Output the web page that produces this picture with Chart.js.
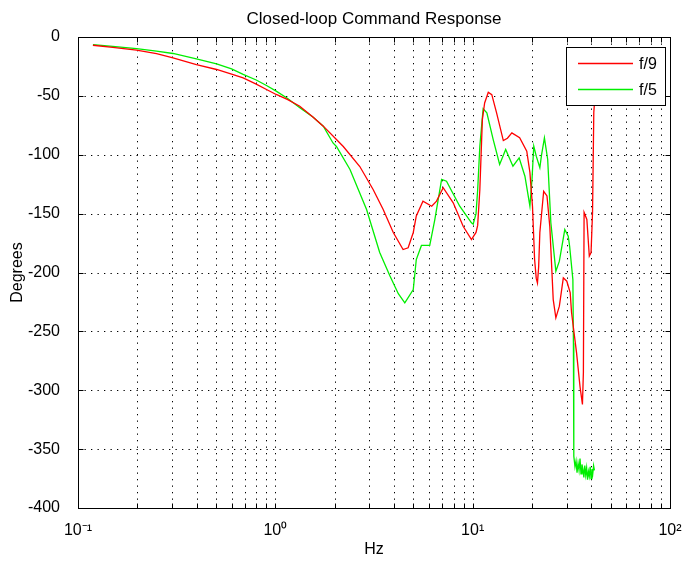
<!DOCTYPE html>
<html><head><meta charset="utf-8">
<script src="https://cdn.jsdelivr.net/npm/chart.js@4.4.1/dist/chart.umd.min.js"></script>
<style>html,body{margin:0;padding:0;background:#fff}#wrap{width:687px;height:563px}</style>
</head><body><div id="wrap"><canvas id="c" width="687" height="563"></canvas></div>
<script>
// ---- data ----
const chartTitle = 'Closed-loop Command Response';
const seriesNames = ['f/9', 'f/5'];

const redHz  = [0.119, 0.15, 0.198, 0.25, 0.303, 0.398, 0.504, 0.6, 0.687, 0.8, 0.902, 1.01, 1.15, 1.33, 1.55, 1.75, 2.04, 2.21, 2.68, 3.13, 3.52, 3.96, 4.44, 4.71, 5.0, 5.18, 5.6, 6.2, 6.56, 7.09, 7.97, 8.95, 9.86, 10.4, 10.6, 10.87, 11.2, 11.5, 12.0, 12.5, 13.2, 14.3, 15.0, 15.8, 17.3, 18.8, 19.5, 20.1, 20.6, 21.0, 21.3, 21.6, 21.9, 22.9, 23.8, 24.6, 25.6, 26.4, 27.5, 28.8, 30.0, 31.2, 31.7, 33.6, 35.0, 36.0, 36.4, 36.7, 37.9, 39.0, 39.8, 40.5, 41.1, 41.6];
const redDeg = [-7, -8.8, -11.2, -14.2, -17.7, -23.4, -27.6, -31.5, -34.7, -40, -44.6, -48.8, -53, -58.8, -68, -75.7, -87, -93, -110, -129.5, -146.5, -166, -180.5, -179, -166, -152, -139.4, -143.7, -139.4, -128, -140.8, -160.7, -172, -166, -160, -130, -70, -56, -47, -49, -64, -88, -86, -81.4, -85.6, -97, -115, -144, -189, -205, -209, -195, -166, -131, -135, -161, -223, -238.5, -228.6, -204.5, -207.4, -217, -234, -268, -297, -312, -285, -149, -155, -186, -183, -149, -64, -52];

const greenHz  = [0.119, 0.15, 0.198, 0.25, 0.303, 0.398, 0.504, 0.6, 0.687, 0.8, 0.902, 1.01, 1.15, 1.33, 1.55, 1.75, 1.96, 2.04, 2.39, 2.9, 3.38, 3.81, 4.2, 4.53, 5.0, 5.18, 5.5, 6.06, 6.43, 6.96, 7.37, 8.6, 9.86, 10.06, 10.4, 10.6, 10.87, 11.3, 11.8, 12.7, 13.7, 14.7, 16.0, 17.2, 18.4, 19.5, 20.0, 20.4, 21.0, 21.9, 22.3, 23.1, 24.0, 24.9, 26.4, 27.5, 29.3, 30.5, 31.0, 32.2, 32.4, 32.5, 32.6, 33.0, 33.4, 33.8, 34.2, 34.6, 35.0, 35.4, 35.8, 36.2, 36.6, 37.0, 37.4, 37.8, 38.2, 38.6, 39.0, 39.4, 39.8, 40.2, 40.6, 41.0, 41.4];
const greenDeg = [-6.4, -8, -9.8, -12, -14, -18.5, -22.8, -27, -31.8, -36.5, -41.2, -46, -52, -60, -68, -75.7, -90, -93, -112.5, -146.5, -183, -203, -218, -225.7, -214.5, -189, -177, -177, -155, -121, -122.5, -143.7, -157.8, -159, -150, -130, -93, -61, -64.4, -87, -108.3, -95.5, -109.7, -102.6, -118.2, -143.7, -120, -92.7, -101.2, -111, -101, -85.6, -104, -157.8, -198.9, -190.4, -163.5, -169.2, -177.7, -206, -260, -316, -356, -365, -360, -370, -362, -368, -358, -371, -363, -367, -374, -364, -372, -366, -376, -369, -373, -365, -375, -367, -371, -364, -368];

const xTickValues = [0.1,0.2,0.3,0.4,0.5,0.6,0.7,0.8,0.9,1,2,3,4,5,6,7,8,9,10,20,30,40,50,60,70,80,90,100];
const xTickLabels = {0.1: '10\u207B\u00B9', 1: '10\u2070', 10: '10\u00B9', 100: '10\u00B2'};
const yTickValues = [-400,-350,-300,-250,-200,-150,-100,-50,0];

const FONT = "'Liberation Sans', Arial, Helvetica, sans-serif";

function line(ctx, x1, y1, x2, y2) { ctx.beginPath(); ctx.moveTo(x1, y1); ctx.lineTo(x2, y2); ctx.stroke(); }

const frame = {
  id: 'frame',
  beforeDatasetsDraw(chart) {
    const {ctx, chartArea: a, scales: {x, y}} = chart;
    ctx.save();
    ctx.strokeStyle = '#000'; ctx.lineWidth = 1; ctx.setLineDash([1.3, 5.2]);
    xTickValues.forEach(v => {
      const px = Math.round(x.getPixelForValue(v)) + 0.5;
      if (px > a.left + 1 && px < a.right - 1) line(ctx, px, a.top, px, a.bottom);
    });
    yTickValues.forEach(v => {
      const py = Math.round(y.getPixelForValue(v)) + 0.5;
      if (py > a.top + 1 && py < a.bottom - 1) line(ctx, a.left, py, a.right, py);
    });
    ctx.restore();
  },
  afterDatasetsDraw(chart) {
    const {ctx, chartArea: a, scales: {x, y}} = chart;
    ctx.save();
    ctx.strokeStyle = '#000'; ctx.lineWidth = 1; ctx.setLineDash([]);
    const L = Math.round(a.left) + 0.5, R = Math.round(a.right) + 0.5, T = Math.round(a.top) + 0.5, B = Math.round(a.bottom) + 0.5;
    ctx.strokeRect(L, T, R - L, B - T);
    const tl = 5;
    xTickValues.forEach(v => {
      const px = Math.round(x.getPixelForValue(v)) + 0.5;
      line(ctx, px, B, px, B - tl); line(ctx, px, T, px, T + tl);
    });
    yTickValues.forEach(v => {
      const py = Math.round(y.getPixelForValue(v)) + 0.5;
      line(ctx, L, py, L + tl, py); line(ctx, R, py, R - tl, py);
    });
    // title centred over the plot area
    ctx.fillStyle = '#000';
    ctx.font = '17px ' + FONT; ctx.textAlign = 'center'; ctx.textBaseline = 'alphabetic';
    ctx.fillText(chartTitle, (a.left + a.right) / 2, 24);
    // legend box
    const lx = 566.5, ly = 47.5, lw = 99, lh = 58;
    ctx.fillStyle = '#fff'; ctx.fillRect(lx, ly, lw, lh);
    ctx.strokeRect(lx, ly, lw, lh);
    const colors = ['#ff0000', '#00ee00'];
    const rows = [63.5, 89.5];
    ctx.font = '16px ' + FONT; ctx.textAlign = 'left'; ctx.textBaseline = 'middle'; ctx.fillStyle = '#000';
    seriesNames.forEach((n, i) => {
      ctx.strokeStyle = colors[i]; ctx.lineWidth = 1.3;
      line(ctx, 578, rows[i], 633, rows[i]);
      ctx.fillText(n, 639, rows[i] + 1);
    });
    ctx.restore();
  }
};

const toPts = (xs, ys) => xs.map((v, i) => ({x: v, y: ys[i]}));

new Chart(document.getElementById('c'), {
  type: 'line',
  data: {
    datasets: [
      {label: seriesNames[0], data: toPts(redHz, redDeg), borderColor: '#ff0000', borderWidth: 1.3, pointRadius: 0, tension: 0, fill: false},
      {label: seriesNames[1], data: toPts(greenHz, greenDeg), borderColor: '#00ee00', borderWidth: 1.3, pointRadius: 0, tension: 0, fill: false}
    ]
  },
  options: {
    responsive: false, animation: false, devicePixelRatio: 1,
    layout: {padding: {left: 0, right: 17, top: 37, bottom: 0}},
    plugins: {
      legend: {display: false},
      tooltip: {enabled: false},
      title: {display: false}
    },
    scales: {
      x: {
        type: 'logarithmic', min: 0.1, max: 100,
        afterBuildTicks: s => { s.ticks = xTickValues.map(v => ({value: v})); },
        afterFit: s => { s.height = 55; },
        grid: {display: false}, border: {display: false},
        ticks: {autoSkip: false, maxRotation: 0, color: '#000', padding: 5, font: {family: FONT, size: 16},
          callback: (v) => xTickLabels[v] !== undefined ? xTickLabels[v] : ''},
        title: {display: true, text: 'Hz', color: '#000', font: {family: FONT, size: 16}, padding: {top: 4, bottom: 4}}
      },
      y: {
        min: -400, max: 0,
        afterBuildTicks: s => { s.ticks = yTickValues.map(v => ({value: v})); },
        afterFit: s => { s.width = 78; },
        grid: {display: false}, border: {display: false},
        ticks: {color: '#000', padding: 10, font: {family: FONT, size: 16}, callback: v => String(v)},
        title: {display: true, text: 'Degrees', color: '#000', font: {family: FONT, size: 16}, padding: {top: 8, bottom: 4}}
      }
    }
  },
  plugins: [frame]
});
</script></body></html>
